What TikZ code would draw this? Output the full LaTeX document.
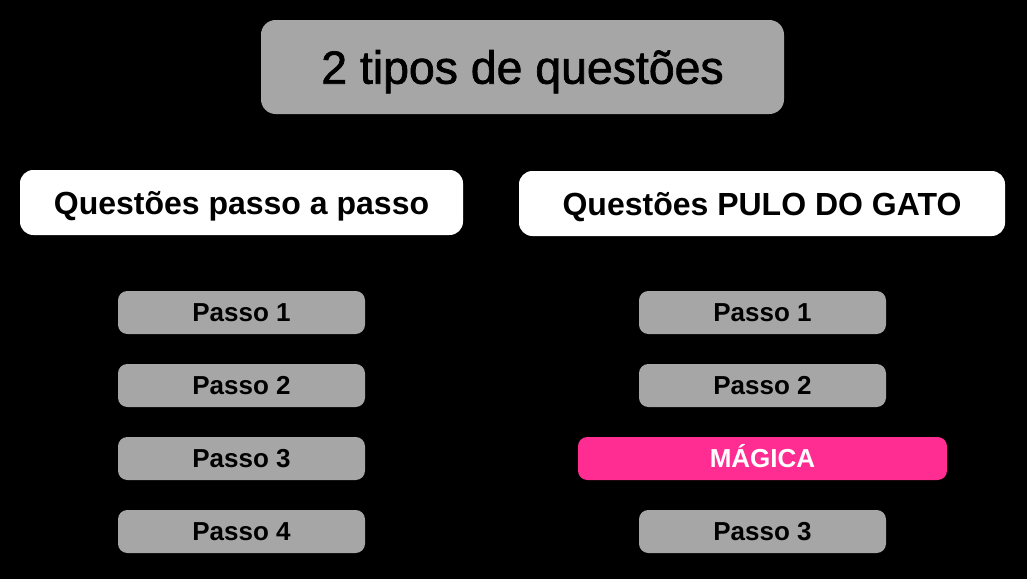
\documentclass[tikz,border=0pt]{standalone}
\usepackage{fontspec}
\setmainfont{Liberation Sans}
\newfontfamily\titlefont[FakeBold=1.5]{Liberation Sans}
\definecolor{boxgray}{HTML}{A6A6A6}
\definecolor{magpink}{HTML}{FF2D92}
\begin{document}
\begin{tikzpicture}[x=0.75pt,y=-0.75pt,
  titlebox/.style={fill=boxgray, rounded corners=11pt, inner sep=0pt, text height=25pt, text depth=0pt,
    minimum width=392.25pt, minimum height=70.5pt, font=\titlefont\fontsize{34.8}{36}\selectfont, text=black},
  headbox/.style={fill=white, rounded corners=10pt, inner sep=0pt, text height=17.3pt, text depth=0pt,
    minimum height=48.75pt, font=\fontsize{24}{28}\selectfont\bfseries, text=black},
  stepbox/.style={fill=boxgray, rounded corners=7pt, inner sep=0pt, text height=14pt, text depth=0pt,
    minimum width=185.25pt, minimum height=32.25pt, font=\fontsize{19.5}{22}\selectfont\bfseries, text=black},
  magicbox/.style={stepbox, fill=magpink, text=white, minimum width=276.75pt}]
\fill[black] (0,0) rectangle (1027,579);
\node[titlebox] (title) at (522.5,67) {2 tipos de questões};
\node[headbox, minimum width=332.25pt] (hl) at (241.5,202.5) {Questões passo a passo};
\node[headbox, minimum width=364.5pt] (hr) at (762,203.5) {Questões PULO DO GATO};
\node[stepbox] (l1) at (241.5,312.5) {Passo 1};
\node[stepbox] (l2) at (241.5,385.5) {Passo 2};
\node[stepbox] (l3) at (241.5,458.5) {Passo 3};
\node[stepbox] (l4) at (241.5,531.5) {Passo 4};
\node[stepbox] (r1) at (762.5,312.5) {Passo 1};
\node[stepbox] (r2) at (762.5,385.5) {Passo 2};
\node[magicbox] (rm) at (762.5,458.5) {MÁGICA};
\node[stepbox] (r3) at (762.5,531.5) {Passo 3};
\end{tikzpicture}
\end{document}
